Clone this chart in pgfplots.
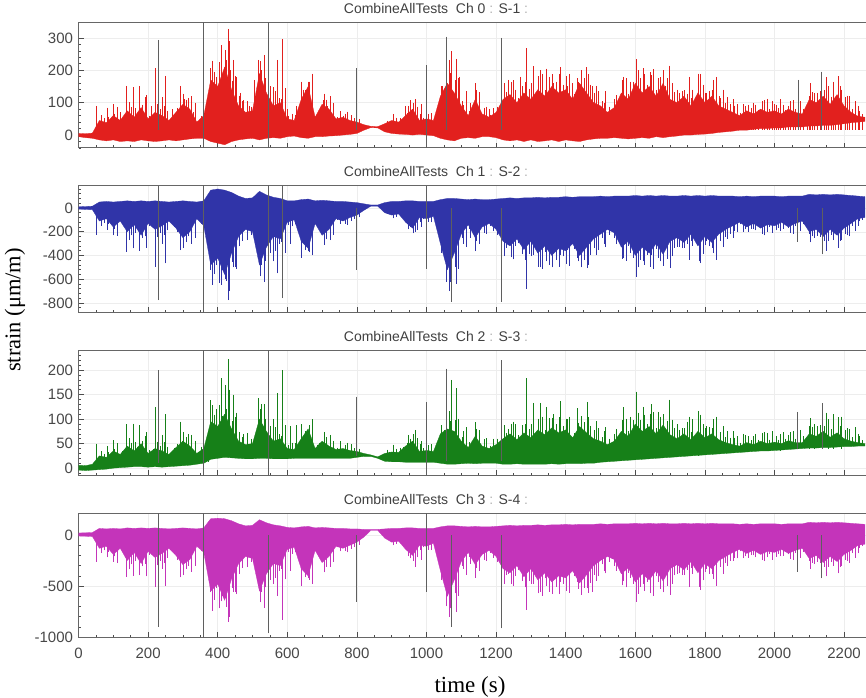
\documentclass[border=0pt]{standalone}
\usepackage{pgfplots}
\pgfplotsset{compat=1.18}
\usepackage{pgfplotstable}
\usepackage{fontspec}
\setmainfont{Liberation Serif}
\newfontfamily\arial{Liberation Sans}
\definecolor{cR}{RGB}{226,32,30}
\definecolor{cB}{RGB}{48,52,168}
\definecolor{cG}{RGB}{22,128,24}
\definecolor{cM}{RGB}{196,52,186}
\definecolor{dk}{RGB}{95,95,95}

% ---------- Panel 1 band ----------
\pgfplotstableread{
t lo hi
0 -5 5
20 -8 4
40 -10 6
60 -15 45
80 -18 38
100 -15 60
120 -20 45
140 -18 75
160 -20 55
180 -15 85
200 -18 50
220 -20 70
240 -18 60
260 -15 45
280 -18 70
300 -15 95
320 -12 80
340 -10 40
360 -10 60
380 -20 170
400 -25 150
420 -30 210
440 -20 140
460 -15 90
480 -12 70
500 -10 75
520 -15 190
540 -10 130
560 -8 90
580 -10 100
600 -5 50
620 -3 45
640 -8 110
660 -10 150
680 -5 55
700 -5 95
720 -3 80
740 -2 50
760 0 55
780 2 45
800 5 40
820 15 32
840 23 27
860 22 26
880 10 35
900 5 45
920 3 40
940 2 60
960 0 80
980 2 45
1000 0 50
1020 -2 45
1040 -10 120
1060 -15 160
1080 -18 130
1100 -10 90
1120 -8 60
1140 -10 110
1160 -5 65
1180 -5 55
1200 -8 70
1220 -15 110
1240 -18 125
1260 -15 100
1280 -20 130
1300 -15 110
1320 -20 140
1340 -18 120
1360 -15 150
1380 -20 130
1400 -15 140
1420 -18 110
1440 -20 160
1460 -15 130
1480 -12 100
1500 -10 90
1520 -10 70
1540 -8 85
1560 -10 130
1580 -12 110
1600 -10 160
1620 -8 130
1640 -10 150
1660 -5 120
1680 -8 160
1700 -5 110
1720 -3 100
1740 0 120
1760 0 90
1780 2 130
1800 3 100
1820 5 120
1840 8 90
1860 10 80
1880 12 70
1900 15 60
1920 15 75
1940 18 65
1960 20 80
1980 20 70
2000 22 75
2020 22 65
2040 25 80
2060 25 70
2080 25 65
2100 28 110
2120 28 100
2140 30 120
2160 30 95
2180 32 125
2200 35 90
2220 38 70
2240 40 58
2260 42 55
}\bandA
\pgfplotstableread{
t b p
52 15 90
83 15 85
100 15 95
120 15 70
136 15 152
156 15 148
175 15 152
191 15 117
210 15 90
220 15 207
241 15 117
250 15 183
270 15 80
292 15 152
305 15 110
316 15 115
330 15 70
380 15 207
395 15 180
409 15 278
421 15 263
429 15 328
437 15 200
445 15 232
453 15 178
465 15 130
474 15 108
490 15 90
505 15 170
517 15 232
525 15 200
560 15 148
572 15 232
587 15 296
600 15 80
625 15 90
645 15 140
660 15 165
703 15 108
715 15 90
761 15 60
940 15 90
953 15 108
967 15 110
985 15 95
1045 15 150
1072 15 259
1087 15 235
1095 15 180
1106 15 92
1125 15 100
1144 15 139
1180 15 80
1235 15 170
1255 15 140
1270 15 180
1288 15 268
1307 15 212
1326 15 200
1345 15 205
1365 15 160
1384 15 210
1405 15 150
1418 15 160
1432 15 175
1460 15 210
1475 15 150
1489 15 152
1510 15 100
1540 15 110
1566 15 180
1585 15 165
1604 15 234
1623 15 207
1647 15 186
1666 15 175
1685 15 150
1698 15 214
1720 15 140
1748 15 128
1765 15 140
1781 15 190
1805 15 130
1824 15 170
1840 15 120
1853 15 140
1882 15 110
1910 15 95
1940 15 100
1978 15 112
2000 15 95
2016 15 110
2040 15 90
2100 15 120
2115 15 130
2155 15 150
2169 15 165
2193 15 140
2215 15 120
2240 15 90
}\spkA
\pgfplotstableread{
t b p
229 15 294
359 -60 400
545 -60 400
799 15 207
999 -40 215
1058 15 304
1216 15 300
2068 15 170
2136 15 196
}\dkA

% ---------- Panel 2 band ----------
\pgfplotstableread{
t lo hi
0 -10 10
20 -12 12
40 -15 15
60 -110 50
80 -90 55
100 -160 50
120 -110 55
140 -200 60
160 -140 55
180 -230 60
200 -130 55
220 -180 60
240 -150 55
260 -110 50
280 -170 55
300 -250 60
320 -200 55
340 -90 50
360 -150 60
380 -480 150
400 -420 160
420 -560 150
440 -380 130
460 -240 100
480 -180 80
500 -200 85
520 -480 140
540 -330 110
560 -240 90
580 -260 80
600 -120 60
620 -100 60
640 -280 70
660 -340 75
680 -130 60
700 -230 65
720 -180 60
740 -90 55
760 -110 55
780 -80 50
800 -60 45
820 -20 35
840 15 25
860 15 25
880 -40 45
900 -60 55
920 -50 55
940 -120 60
960 -170 60
980 -80 55
1000 -90 55
1020 -70 55
1040 -300 70
1060 -520 80
1080 -380 80
1100 -220 75
1120 -140 70
1140 -250 75
1160 -160 70
1180 -130 70
1200 -180 75
1220 -280 80
1240 -320 85
1260 -260 80
1280 -350 85
1300 -280 85
1320 -380 90
1340 -320 85
1360 -400 90
1380 -340 90
1400 -360 95
1420 -300 90
1440 -400 95
1460 -330 95
1480 -260 95
1500 -220 100
1520 -180 95
1540 -210 100
1560 -330 100
1580 -280 100
1600 -400 105
1620 -330 100
1640 -380 105
1660 -300 100
1680 -390 105
1700 -280 100
1720 -250 100
1740 -290 105
1760 -220 100
1780 -320 105
1800 -240 100
1820 -290 105
1840 -220 100
1860 -180 100
1880 -150 100
1900 -120 95
1920 -160 100
1940 -130 95
1960 -170 100
1980 -140 100
2000 -150 100
2020 -120 95
2040 -160 100
2060 -130 100
2080 -110 100
2100 -200 115
2120 -180 110
2140 -240 115
2160 -180 110
2180 -230 115
2200 -170 110
2220 -130 105
2240 -90 100
2260 -80 95
}\bandB
\pgfplotstableread{
t b p
52 0 -227
83 0 -185
100 0 -230
136 0 -368
156 0 -340
175 0 -360
191 0 -240
220 0 -494
241 0 -300
250 0 -466
292 0 -354
316 0 -240
380 0 -520
395 0 -480
409 0 -648
421 0 -600
429 0 -775
445 0 -500
453 0 -510
517 0 -400
525 0 -480
560 0 -450
572 0 -550
610 0 -300
660 0 -365
710 0 -200
953 0 -160
967 0 -200
985 0 -160
1058 0 -620
1087 0 -640
1106 0 -300
1125 0 -250
1144 0 -280
1235 0 -300
1255 0 -320
1288 0 -680
1307 0 -400
1326 0 -500
1345 0 -450
1365 0 -380
1384 0 -400
1405 0 -350
1432 0 -420
1463 0 -507
1489 0 -400
1510 0 -300
1540 0 -250
1566 0 -420
1585 0 -380
1602 0 -578
1623 0 -450
1647 0 -400
1666 0 -420
1700 0 -507
1720 0 -330
1748 0 -300
1765 0 -320
1783 0 -450
1805 0 -280
1824 0 -380
1853 0 -330
1882 0 -250
1910 0 -200
1940 0 -180
1978 0 -200
2016 0 -190
2040 0 -170
2100 0 -220
2115 0 -250
2155 0 -280
2169 0 -270
2193 0 -270
2215 0 -240
2240 0 -150
}\spkB
\pgfplotstableread{
t b p
229 185 -775
359 200 -900
545 200 -900
587 185 -760
799 0 -522
999 185 -510
1072 0 -790
1216 0 -790
2067 0 -285
2138 0 -390
}\dkB

% ---------- Panel 3 band ----------
\pgfplotstableread{
t lo hi
0 -4 6
20 -5 5
40 -4 8
60 -3 25
80 -2 22
100 0 35
120 1 28
140 2 45
160 3 35
180 3 50
200 2 30
220 3 40
240 2 35
260 3 28
280 4 42
300 5 55
320 6 45
340 8 30
360 10 40
380 18 95
400 20 85
420 22 110
440 21 80
460 20 55
480 19 48
500 19 50
520 20 100
540 20 75
560 19 55
580 19 60
600 19 40
620 20 38
640 20 60
660 20 80
680 20 40
700 20 55
720 20 45
740 20 38
760 20 40
780 20 36
800 22 34
820 24 30
840 24 27
860 20 23
880 14 30
900 13 33
920 13 32
940 12 45
960 12 55
980 12 34
1000 12 36
1020 12 34
1040 10 70
1060 8 80
1080 8 75
1100 9 55
1120 10 42
1140 9 65
1160 10 45
1180 10 40
1200 10 48
1220 8 60
1240 8 70
1260 9 58
1280 8 72
1300 8 62
1320 8 78
1340 8 68
1360 9 82
1380 8 72
1400 9 78
1420 9 62
1440 9 85
1460 10 72
1480 10 60
1500 12 55
1520 13 48
1540 14 55
1560 15 75
1580 16 65
1600 17 90
1620 18 75
1640 19 85
1660 20 70
1680 21 88
1700 22 68
1720 23 60
1740 24 70
1760 25 58
1780 26 75
1800 27 62
1820 28 70
1840 29 58
1860 30 52
1880 31 48
1900 32 45
1920 33 52
1940 34 48
1960 35 55
1980 35 50
2000 36 53
2020 37 50
2040 38 56
2060 39 52
2080 40 52
2100 41 70
2120 41 65
2140 42 75
2160 42 63
2180 43 72
2200 44 60
2220 44 55
2240 45 52
2260 45 50
}\bandC
\pgfplotstableread{
t b p
52 5 50
83 5 45
100 10 57
136 10 90
156 10 91
175 10 88
191 10 65
220 10 125
241 10 68
250 10 110
292 10 95
316 10 70
380 25 139
395 25 120
409 25 183
421 25 170
429 25 222
445 25 150
453 25 113
474 25 70
517 25 143
525 25 130
560 25 100
572 25 153
587 25 200
608 25 85
625 25 88
660 25 63
705 25 60
953 20 60
967 20 78
985 20 55
1072 15 180
1087 15 163
1106 15 75
1144 15 80
1235 15 80
1255 15 90
1288 15 183
1307 15 133
1326 15 133
1345 15 125
1365 15 110
1384 15 136
1405 15 100
1432 15 122
1463 15 135
1489 15 96
1510 15 75
1540 15 70
1566 20 124
1585 20 105
1602 20 156
1623 20 125
1647 20 130
1666 20 115
1699 25 140
1720 25 90
1748 25 95
1765 25 100
1782 25 117
1805 30 85
1824 30 100
1853 30 85
1882 30 75
1910 35 70
1940 35 65
1978 35 72
2016 35 70
2040 40 68
2100 40 85
2115 40 90
2155 40 100
2169 40 110
2193 40 105
2215 45 80
2240 45 70
}\spkC
\pgfplotstableread{
t b p
229 10 200
359 -20 260
545 -20 260
799 25 146
999 -14 135
1058 15 203
1216 15 220
2067 40 115
2138 40 132
}\dkC

% ---------- Panel 4 band ----------
\pgfplotstableread{
t lo hi
0 -10 20
20 -12 22
40 -15 25
60 -130 65
80 -110 60
100 -190 65
120 -130 60
140 -250 70
160 -170 65
180 -280 70
200 -160 65
220 -220 70
240 -180 65
260 -130 60
280 -200 65
300 -290 70
320 -240 65
340 -110 60
360 -170 70
380 -550 160
400 -480 165
420 -640 160
440 -430 140
460 -280 110
480 -210 90
500 -230 95
520 -550 150
540 -380 120
560 -280 100
580 -300 90
600 -140 75
620 -120 70
640 -330 80
660 -400 85
680 -150 70
700 -270 75
720 -210 70
740 -110 65
760 -130 65
780 -100 60
800 -70 60
820 -20 55
840 45 55
860 45 55
880 -30 60
900 -70 65
920 -60 65
940 -140 70
960 -200 70
980 -100 65
1000 -110 65
1020 -80 65
1040 -350 80
1060 -600 90
1080 -440 90
1100 -260 85
1120 -170 80
1140 -290 85
1160 -190 80
1180 -150 80
1200 -210 85
1220 -330 90
1240 -370 95
1260 -300 90
1280 -410 95
1300 -330 95
1320 -440 100
1340 -370 95
1360 -460 100
1380 -400 100
1400 -420 105
1420 -350 100
1440 -470 105
1460 -390 105
1480 -300 105
1500 -250 110
1520 -210 105
1540 -240 110
1560 -380 110
1580 -320 110
1600 -460 115
1620 -380 110
1640 -440 115
1660 -350 110
1680 -450 115
1700 -330 110
1720 -290 110
1740 -340 115
1760 -260 110
1780 -370 115
1800 -280 110
1820 -330 115
1840 -250 110
1860 -210 110
1880 -170 110
1900 -140 105
1920 -180 110
1940 -150 105
1960 -190 110
1980 -160 110
2000 -170 110
2020 -140 105
2040 -180 110
2060 -150 110
2080 -130 110
2100 -230 125
2120 -200 120
2140 -270 125
2160 -210 120
2180 -260 125
2200 -190 120
2220 -150 115
2240 -100 110
2260 -90 105
}\bandD
\pgfplotstableread{
t b p
52 0 -261
83 0 -220
100 0 -261
136 0 -408
156 0 -400
175 0 -395
191 0 -280
220 0 -506
241 0 -330
250 0 -500
292 0 -415
316 0 -300
380 0 -560
395 0 -520
409 0 -650
421 0 -620
429 0 -850
445 0 -560
453 0 -580
517 0 -500
525 0 -555
560 0 -480
572 0 -600
587 0 -830
610 0 -350
660 0 -425
710 0 -230
953 0 -230
967 0 -310
985 0 -240
1058 0 -700
1087 0 -755
1106 0 -330
1125 0 -280
1144 0 -320
1235 0 -380
1255 0 -400
1288 0 -735
1307 0 -480
1326 0 -556
1345 0 -500
1365 0 -430
1384 0 -458
1405 0 -400
1432 0 -457
1463 0 -520
1475 0 -556
1489 0 -450
1510 0 -350
1540 0 -300
1566 0 -450
1585 0 -420
1604 0 -654
1623 0 -480
1647 0 -392
1666 0 -460
1700 0 -588
1720 0 -380
1748 0 -340
1765 0 -380
1783 0 -506
1805 0 -330
1824 0 -430
1853 0 -380
1882 0 -250
1910 0 -230
1940 0 -200
1978 0 -220
2016 0 -210
2040 0 -190
2100 0 -250
2115 0 -280
2155 0 -310
2169 0 -300
2193 0 -300
2215 0 -270
2240 0 -180
}\spkD
\pgfplotstableread{
t b p
229 216 -899
359 230 -1050
545 0 -964
799 0 -654
999 216 -556
1072 0 -899
1216 0 -915
2067 0 -359
2135 0 -425
}\dkD

% ---------- fine spikes (peaks per panel: a=Ch0, b=Ch1, c=Ch2 with base cb, d=Ch3) ----------
\pgfplotstableread{
t a b c cb d
65 61 -149 34 0 -176
73 52 -127 29 0 -150
86 57 -135 33 0 -165
94 48 -113 28 0 -138
104 66 -176 39 2 -209
112 87 -232 51 2 -276
126 54 -132 34 3 -156
131 59 -143 36 3 -169
145 101 -270 61 4 -338
151 86 -230 52 4 -288
164 83 -210 53 5 -255
169 69 -175 44 5 -213
184 94 -253 55 5 -308
196 123 -334 73 5 -406
204 60 -156 36 4 -192
214 65 -169 39 4 -208
225 95 -243 54 5 -297
234 81 -207 46 5 -253
245 90 -225 53 4 -270
256 75 -188 44 4 -225
264 50 -121 31 5 -143
275 65 -160 41 5 -189
284 84 -204 50 6 -240
297 91 -221 55 6 -260
302 128 -338 74 7 -392
310 109 -288 63 7 -334
323 120 -300 68 8 -360
335 100 -250 56 8 -300
344 44 -99 33 10 -121
352 58 -131 44 10 -160
366 72 -180 48 12 -204
373 78 -195 52 12 -221
384 230 -648 128 20 -743
391 196 -552 109 20 -633
403 225 -630 128 22 -720
414 188 -525 106 22 -600
425 231 -616 121 24 -704
433 290 -700 160 24 -800
442 168 -456 96 23 -516
449 182 -494 104 23 -559
463 122 -324 74 22 -378
470 104 -276 63 22 -322
484 105 -270 72 21 -315
495 88 -225 60 21 -263
503 83 -220 55 21 -253
511 109 -290 73 21 -334
521 228 -576 120 22 -660
533 247 -624 130 22 -715
538 176 -446 101 22 -513
552 150 -380 86 22 -437
565 135 -360 83 21 -420
577 113 -300 69 21 -350
583 110 -286 66 21 -330
593 145 -377 87 21 -435
604 60 -144 48 21 -168
614 65 -156 52 21 -182
622 61 -135 51 22 -162
632 52 -115 44 22 -138
641 165 -420 90 22 -495
652 138 -350 75 22 -413
664 165 -374 88 22 -440
671 190 -400 100 22 -480
685 66 -156 48 22 -180
693 72 -169 52 22 -195
706 128 -311 74 22 -365
712 109 -265 63 22 -311
724 120 -270 68 22 -315
733 100 -225 56 22 -263
744 55 -99 42 22 -121
752 73 -131 55 22 -160
766 66 -132 48 22 -156
773 72 -143 52 22 -169
785 61 -108 49 22 -135
792 52 -92 41 22 -115
806 50 -80 40 24 -95
886 44 -50 38 16 -38
894 39 -44 33 16 -33
905 65 -87 48 15 -102
913 54 -72 40 15 -84
924 52 -65 42 15 -78
932 54 -68 43 15 -81
944 69 -138 52 14 -161
948 90 -180 68 14 -210
962 100 -213 69 14 -250
974 88 -187 61 14 -220
983 65 -116 49 14 -145
992 54 -96 41 14 -120
1005 65 -117 47 14 -143
1013 68 -122 49 14 -149
1024 52 -81 39 14 -92
1033 68 -105 51 14 -120
1041 150 -375 88 12 -438
1052 132 -330 77 12 -385
1064 232 -700 116 10 -800
1068 192 -624 96 10 -720
1082 169 -494 98 10 -572
1092 176 -513 101 10 -594
1103 104 -253 63 11 -299
1113 135 -330 83 11 -390
1124 75 -175 53 12 -213
1133 66 -154 46 12 -187
1141 160 -363 94 11 -421
1152 132 -300 78 11 -348
1165 85 -208 59 12 -247
1173 88 -216 61 12 -257
1184 63 -150 46 12 -173
1193 83 -195 60 12 -225
1204 88 -225 60 12 -263
1211 77 -198 53 12 -231
1224 160 -406 87 10 -479
1229 132 -336 72 10 -396
1244 163 -416 91 10 -481
1250 169 -432 95 10 -500
1264 115 -299 67 11 -345
1275 150 -390 87 11 -450
1283 163 -438 90 10 -513
1294 143 -385 79 10 -451
1302 160 -406 90 10 -479
1314 132 -336 74 10 -396
1322 182 -494 101 10 -572
1333 189 -513 105 10 -594
1341 138 -368 78 10 -426
1353 180 -480 102 10 -555
1362 188 -500 103 11 -575
1373 165 -440 90 11 -506
1381 189 -493 104 10 -580
1393 156 -408 86 10 -480
1402 182 -468 101 11 -546
1411 189 -486 105 11 -567
1424 127 -345 71 11 -403
1437 165 -450 93 11 -525
1445 200 -500 106 11 -588
1452 176 -440 94 11 -517
1466 189 -479 104 12 -566
1470 156 -396 86 12 -468
1483 130 -338 78 12 -390
1494 135 -351 81 12 -405
1504 104 -253 63 14 -288
1515 135 -330 83 14 -375
1524 88 -225 60 15 -263
1533 77 -198 53 15 -231
1546 123 -305 80 16 -348
1553 102 -252 66 16 -288
1562 169 -429 98 17 -494
1573 176 -446 101 17 -513
1581 127 -322 75 18 -368
1593 165 -420 98 18 -480
1609 200 -500 113 19 -575
1614 176 -440 99 19 -506
1627 189 -479 109 20 -551
1634 156 -396 90 20 -456
1642 195 -494 111 21 -572
1653 203 -513 115 21 -594
1661 138 -345 81 22 -403
1673 180 -450 105 22 -525
1681 200 -488 110 23 -563
1692 176 -429 97 23 -495
1705 160 -406 99 24 -479
1713 132 -336 82 24 -396
1726 130 -325 78 25 -377
1734 135 -338 81 25 -392
1742 138 -334 81 26 -391
1755 180 -435 105 26 -510
1762 113 -275 73 27 -325
1773 99 -242 64 27 -286
1788 189 -464 109 28 -537
1794 156 -384 90 28 -444
1802 130 -312 81 29 -364
1813 135 -324 84 29 -378
1821 138 -334 81 30 -380
1833 180 -435 105 30 -495
1845 113 -275 73 31 -313
1858 99 -242 64 31 -275
1864 116 -261 75 32 -305
1872 96 -216 62 32 -252
1885 91 -195 62 33 -221
1893 95 -203 65 33 -230
1903 69 -138 52 34 -161
1915 90 -180 68 34 -210
1924 94 -200 65 35 -225
1932 83 -176 57 35 -198
1946 94 -189 70 36 -218
1953 78 -156 58 36 -180
1965 104 -221 72 37 -247
1971 108 -230 74 37 -257
1986 81 -161 58 37 -184
1993 105 -210 75 37 -240
2006 94 -188 66 38 -213
2011 83 -165 58 38 -187
2024 94 -174 73 39 -203
2032 78 -144 60 39 -168
2045 104 -208 73 40 -234
2053 108 -216 76 40 -243
2061 81 -150 60 41 -173
2074 105 -195 78 41 -225
2084 81 -138 65 42 -163
2093 72 -121 57 42 -143
2104 160 -290 102 43 -334
2109 132 -240 84 43 -276
2124 130 -234 85 43 -260
2131 135 -243 88 43 -270
2144 138 -276 86 44 -311
2149 180 -360 113 44 -405
2163 119 -225 79 44 -263
2175 105 -198 69 44 -231
2184 181 -334 104 45 -377
2188 150 -276 86 45 -312
2204 117 -221 78 46 -247
2209 122 -230 81 46 -257
2224 81 -150 63 46 -173
2231 105 -195 83 46 -225
2244 73 -113 65 47 -125
2252 64 -99 57 47 -110
}\fine

\pgfplotsset{
  panel/.style={
    scale only axis, width=792pt, xmin=0, xmax=2276,
    anchor=south west,
    axis line style={black!60, line width=1pt},
    tick pos=left,
    xtick distance=200, minor x tick num=3,
    major tick length=5pt, minor tick length=2.5pt,
    tick style={black!70, line width=0.6pt},
    grid=major, major grid style={black!7, line width=0.4pt},
    ticklabel style={font=\arial\fontsize{15}{15}\selectfont, text=black!72},
    /pgf/number format/assume math mode=true,
    /pgf/number format/1000 sep={},
    yticklabel style={xshift=-2pt},
    xticklabel style={yshift=-7pt},
    title style={at={(0.4514,1)}, anchor=base, yshift=3pt,
      font=\arial\fontsize{14}{14}\selectfont, text=black!75},
  },
  errup/.style={draw=none, mark=none, forget plot,
    error bars/.cd, y dir=minus, y explicit, error mark=none},
  errdown/.style={draw=none, mark=none, forget plot,
    error bars/.cd, y dir=plus, y explicit, error mark=none},
}
% spikes drawn as explicit error bars from base b to peak p
\newcommand{\spikesUp}[3]{%
  \addplot[errup, error bar style={draw=#2, line width=#3}]
    table[x=t, y=p, y error expr=\thisrow{p}-\thisrow{b}]{#1};}
\newcommand{\spikesDown}[3]{%
  \addplot[errdown, error bar style={draw=#2, line width=#3}]
    table[x=t, y=p, y error expr=\thisrow{b}-\thisrow{p}]{#1};}
\newcommand{\band}[2]{%
  \addplot[draw=none, stack plots=y, forget plot] table[x=t, y=lo]{#1};
  \addplot[fill=#2, draw=#2, line width=0.3pt, stack plots=y]
    table[x=t, y expr=\thisrow{hi}-\thisrow{lo}]{#1} \closedcycle;}
\newcommand{\ttl}[2]{CombineAllTests\ \ Ch #1 \textcolor{black!30}{:} S-#2 \textcolor{black!30}{:}}

\begin{document}
\begin{tikzpicture}[x=1pt,y=1pt]
\useasboundingbox (0pt,0pt) rectangle (866pt,697pt);

% Panel 1
\begin{axis}[panel, at={(78.5pt,549pt)}, height=125pt, ymin=-40, ymax=346,
  ytick distance=100, minor y tick num=4, xticklabels={}, title={\ttl{0}{1}}]
\band{\bandA}{cR}
\addplot[errup, error bar style={draw=cR, line width=0.45pt}]
  table[x=t, y=a, y error expr=\thisrow{a}-15]{\fine};
\spikesUp{\spkA}{cR}{0.55pt}
\spikesUp{\dkA}{dk}{0.7pt}
\end{axis}

% Panel 2
\begin{axis}[panel, at={(78.5pt,385pt)}, height=126pt, ymin=-876, ymax=185,
  ytick distance=200, minor y tick num=4, xticklabels={}, title={\ttl{1}{2}}]
\band{\bandB}{cB}
\addplot[errdown, error bar style={draw=cB, line width=0.45pt}]
  table[x=t, y=b, y error expr=-\thisrow{b}]{\fine};
\spikesDown{\spkB}{cB}{0.55pt}
\spikesDown{\dkB}{dk}{0.7pt}
\end{axis}

% Panel 3
\begin{axis}[panel, at={(78.5pt,222pt)}, height=125pt, ymin=-14, ymax=241,
  ytick distance=50, minor y tick num=4, xticklabels={}, title={\ttl{2}{3}}]
\band{\bandC}{cG}
\addplot[errup, error bar style={draw=cG, line width=0.45pt}]
  table[x=t, y=c, y error expr=\thisrow{c}-\thisrow{cb}]{\fine};
\spikesUp{\spkC}{cG}{0.55pt}
\spikesUp{\dkC}{dk}{0.7pt}
\end{axis}

% Panel 4
\begin{axis}[panel, at={(78.5pt,60pt)}, height=124pt, ymin=-1000, ymax=216,
  ytick distance=500, minor y tick num=4, title={\ttl{3}{4}}]
\band{\bandD}{cM}
\addplot[errdown, error bar style={draw=cM, line width=0.45pt}]
  table[x=t, y=d, y error expr=-\thisrow{d}]{\fine};
\spikesDown{\spkD}{cM}{0.55pt}
\spikesDown{\dkD}{dk}{0.7pt}
\end{axis}

\node[rotate=90, font=\fontsize{22.5}{22.5}\selectfont] at (15pt,387pt) {strain (μm/m)};
\node[anchor=base, font=\fontsize{23}{23}\selectfont] at (470pt,5pt) {time (s)};
\end{tikzpicture}
\end{document}
